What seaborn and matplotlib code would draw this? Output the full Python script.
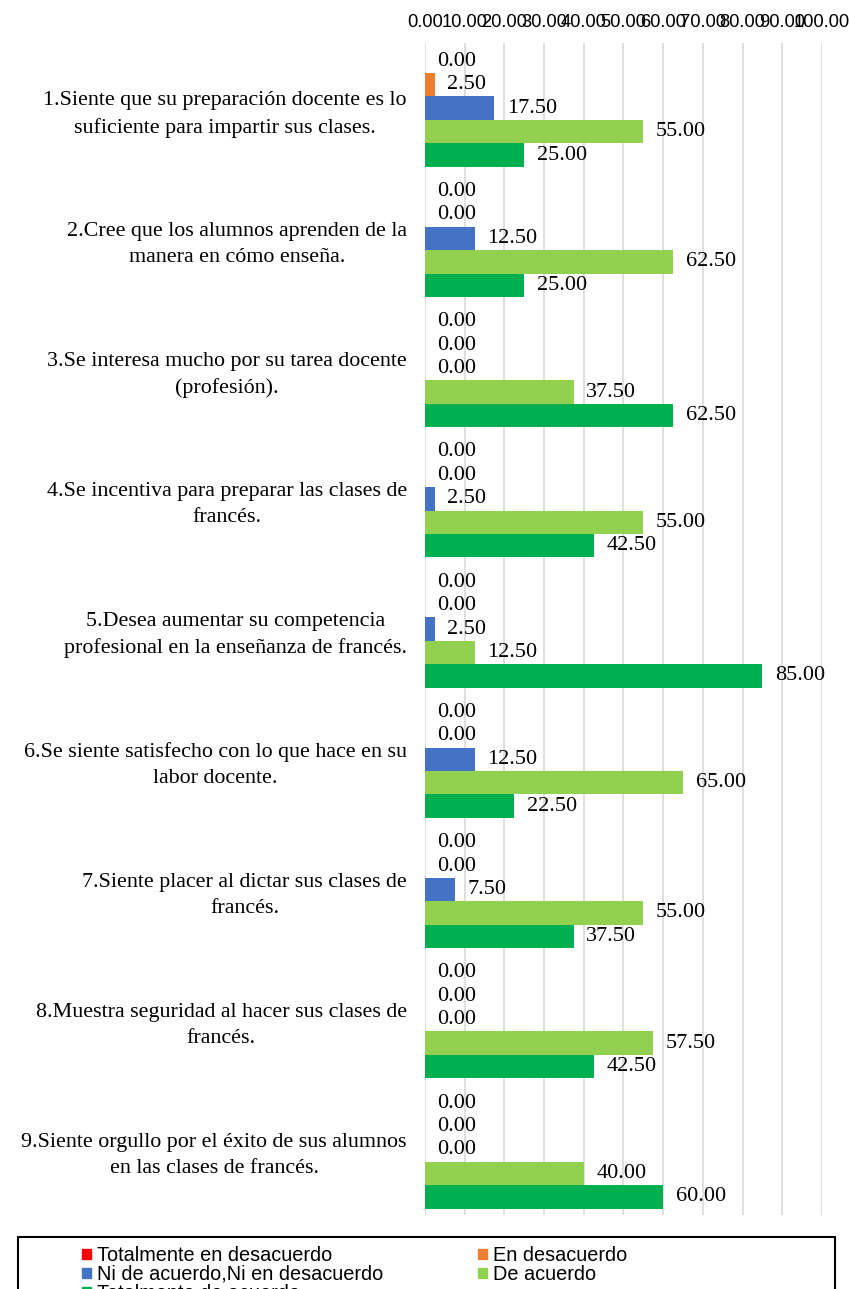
import numpy as np
import pandas as pd
import seaborn as sns
import matplotlib.pyplot as plt
from matplotlib.patches import Patch, Rectangle

preguntas = [
    "1.Siente que su preparación docente es lo\nsuficiente para impartir sus clases.",
    "2.Cree que los alumnos aprenden de la\nmanera en cómo enseña.",
    "3.Se interesa mucho por su tarea docente\n(profesión).",
    "4.Se incentiva para preparar las clases de\nfrancés.",
    "5.Desea aumentar su competencia\nprofesional en la enseñanza de francés.",
    "6.Se siente satisfecho con lo que hace en su\nlabor docente.",
    "7.Siente placer al dictar sus clases de\nfrancés.",
    "8.Muestra seguridad al hacer sus clases de\nfrancés.",
    "9.Siente orgullo por el éxito de sus alumnos\nen las clases de francés.",
]
respuestas = ["Totalmente en desacuerdo", "En desacuerdo",
              "Ni de acuerdo,Ni en desacuerdo", "De acuerdo",
              "Totalmente de acuerdo"]
tot_desacuerdo = [0.0, 0.0, 0.0, 0.0, 0.0, 0.0, 0.0, 0.0, 0.0]
en_desacuerdo = [2.5, 0.0, 0.0, 0.0, 0.0, 0.0, 0.0, 0.0, 0.0]
ni_ni = [17.5, 12.5, 0.0, 2.5, 2.5, 12.5, 7.5, 0.0, 0.0]
de_acuerdo = [55.0, 62.5, 37.5, 55.0, 12.5, 65.0, 55.0, 57.5, 40.0]
tot_acuerdo = [25.0, 25.0, 62.5, 42.5, 85.0, 22.5, 37.5, 42.5, 60.0]
colores = ["#FF0000", "#ED7D31", "#4472C4", "#92D050", "#00B050"]
xticks = np.arange(0, 101, 10)

series = [tot_desacuerdo, en_desacuerdo, ni_ni, de_acuerdo, tot_acuerdo]
df = pd.DataFrame({
    'pregunta': np.tile(preguntas, len(respuestas)),
    'respuesta': np.repeat(respuestas, len(preguntas)),
    'valor': np.concatenate(series),
})

fig = plt.figure(figsize=(8.5, 12.89), dpi=100)
ax = fig.add_axes([0.5, 0.0574, 0.467, 0.9092])

sns.barplot(data=df, y='pregunta', x='valor', hue='respuesta', order=preguntas,
            hue_order=respuestas, palette=dict(zip(respuestas, colores)),
            saturation=1, orient='h', width=0.9, linewidth=0, ax=ax, legend=False)

for c in ax.containers:
    ax.bar_label(c, fmt='%.2f', padding=9, fontsize=16, family='Liberation Serif')

# style plot
ax.set_xlim(0, 100)
ax.set_xticks(xticks)
ax.set_xticklabels([f'{v:.2f}' for v in xticks], family='Liberation Sans', fontsize=13.2)
ax.xaxis.tick_top()
ax.tick_params(axis='x', length=0, pad=9, colors='#000000')
ax.tick_params(axis='y', length=0, pad=13)
for lab in ax.get_yticklabels():
    lab.set_family('Liberation Serif')
    lab.set_fontsize(15.8)
    lab.set_multialignment('center')
    lab.set_linespacing(1.5)
ax.set_xlabel('')
ax.set_ylabel('')
ax.grid(axis='x', color='#D9D9D9', lw=1.2)
ax.set_axisbelow(True)
for s in ax.spines.values():
    s.set_visible(False)

# legend box (cut at the bottom like the original)
fig.patches.append(Rectangle((18 / 850, 1 - 1300 / 1289), 817 / 850, 63 / 1289,
                             transform=fig.transFigure, fill=False,
                             edgecolor='black', lw=1.5))
order = [0, 2, 4, 1, 3]
handles = [Patch(color=colores[i], label=respuestas[i]) for i in order]
fig.legend(handles=handles, ncol=2, loc='upper left',
           bbox_to_anchor=(72 / 850, 1 - 1236 / 1289), frameon=False,
           prop={'family': 'Liberation Sans', 'size': 14.3},
           handlelength=0.45, handleheight=0.45, handletextpad=0.3,
           labelspacing=0.0, columnspacing=4.8, borderpad=0)

plt.savefig('out.png')
